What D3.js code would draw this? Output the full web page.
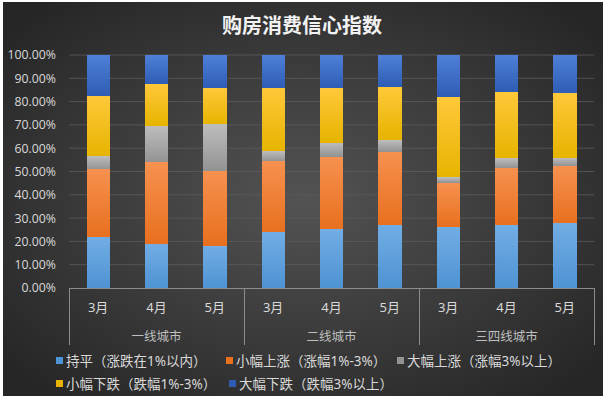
<!DOCTYPE html>
<html>
<head>
<meta charset="utf-8">
<script src="https://cdn.jsdelivr.net/npm/d3@7"></script>
<style>
  body { margin: 0; background: #ffffff; }
  text { font-family: "Noto Sans", "Noto Sans CJK SC", sans-serif; }
</style>
</head>
<body>
<script>
// chart values
var groups = ["一线城市", "二线城市", "三四线城市"];
var months = ["3月", "4月", "5月"];
var seriesNames = ["持平（涨跌在1%以内）", "小幅上涨（涨幅1%-3%）", "大幅上涨（涨幅3%以上）",
                   "小幅下跌（跌幅1%-3%）", "大幅下跌（跌幅3%以上）"];
// one value per bar, order: 一线 3,4,5 / 二线 3,4,5 / 三四线 3,4,5
var flat     = [0.220, 0.190, 0.182, 0.240, 0.252, 0.272, 0.263, 0.269, 0.277];
var smallUp  = [0.289, 0.349, 0.322, 0.304, 0.312, 0.313, 0.189, 0.247, 0.247];
var bigUp    = [0.057, 0.156, 0.198, 0.044, 0.060, 0.050, 0.023, 0.041, 0.035];
var smallDown= [0.259, 0.182, 0.156, 0.272, 0.233, 0.229, 0.346, 0.286, 0.279];
var bigDown  = [0.175, 0.123, 0.142, 0.140, 0.143, 0.136, 0.179, 0.157, 0.162];
var yTicks = [0, 0.1, 0.2, 0.3, 0.4, 0.5, 0.6, 0.7, 0.8, 0.9, 1.0];

// gradient stops per series (top, bottom)
var colors = [["#72ade4", "#4e93d3"], ["#f6914f", "#e8701f"], ["#bdbdbd", "#939393"],
              ["#ffc83a", "#e6b400"], ["#4f7fd8", "#2f5db5"]];

var width = 606, height = 399;
var margin = {top: 55, right: 12, bottom: 111, left: 69};

var svg = d3.select("body").append("svg")
    .attr("width", width)
    .attr("height", height);

var defs = svg.append("defs");
var bg = defs.append("radialGradient").attr("id", "bg")
    .attr("cx", "50%").attr("cy", "50%").attr("r", "65%");
bg.append("stop").attr("offset", "0%").attr("stop-color", "#535353");
bg.append("stop").attr("offset", "100%").attr("stop-color", "#262626");

colors.forEach(function(c, i) {
  var lg = defs.append("linearGradient").attr("id", "s" + i)
      .attr("x1", 0).attr("y1", 0).attr("x2", 0).attr("y2", 1);
  lg.append("stop").attr("offset", "0%").attr("stop-color", c[0]);
  lg.append("stop").attr("offset", "100%").attr("stop-color", c[1]);
});

// background panel
svg.append("rect")
    .attr("x", 3).attr("y", 2)
    .attr("width", 600).attr("height", 394)
    .attr("fill", "url(#bg)");

// title
svg.append("text")
    .attr("x", 302).attr("y", 33)
    .attr("text-anchor", "middle")
    .attr("fill", "#f2f2f2")
    .attr("font-size", 20)
    .attr("font-weight", "bold")
    .text("购房消费信心指数");

// build table for stacking
var cats = [];
groups.forEach(function(g) { months.forEach(function(m) { cats.push({group: g, month: m}); }); });
var table = cats.map(function(c, i) {
  return {i: i, s0: flat[i], s1: smallUp[i], s2: bigUp[i], s3: smallDown[i], s4: bigDown[i]};
});
var keys = ["s0", "s1", "s2", "s3", "s4"];
var stacked = d3.stack().keys(keys)(table);

var x = d3.scaleBand()
    .domain(d3.range(cats.length))
    .range([margin.left, width - margin.right])
    .paddingInner(0.6)
    .paddingOuter(0.3);

var y = d3.scaleLinear()
    .domain([0, 1])
    .range([height - margin.bottom, margin.top]);

// gridlines
svg.append("g").selectAll("line")
    .data(yTicks.slice(1))
    .enter().append("line")
    .attr("x1", margin.left).attr("x2", width - margin.right)
    .attr("y1", function(d) { return y(d); })
    .attr("y2", function(d) { return y(d); })
    .attr("stroke", "#5c5c5c")
    .attr("stroke-width", 0.8);

// y axis labels
var yAxis = svg.append("g")
    .attr("transform", "translate(" + margin.left + ",0)")
    .call(d3.axisLeft(y).tickValues(yTicks).tickFormat(d3.format(".2%")).tickSize(0).tickPadding(13));
yAxis.select(".domain").remove();
yAxis.selectAll("text")
    .attr("fill", "#d9d9d9")
    .attr("font-size", 12.3)
    .style("font-family", "'Open Sans', 'Noto Sans', sans-serif");

// bars
svg.append("g").selectAll("g")
    .data(stacked)
    .enter().append("g")
    .attr("fill", function(d, i) { return "url(#s" + i + ")"; })
    .selectAll("rect")
    .data(function(d) { return d; })
    .enter().append("rect")
    .attr("x", function(d) { return x(d.data.i); })
    .attr("width", x.bandwidth())
    .attr("y", function(d) { return y(d[1]); })
    .attr("height", function(d) { return y(d[0]) - y(d[1]); })
    .attr("shape-rendering", "crispEdges");

// category axis (two levels)
var axisY = y(0);
var left = margin.left, right = width - margin.right;
var ax = svg.append("g").attr("stroke", "#8c8c8c").attr("stroke-width", 1);
ax.append("line")
    .attr("x1", left).attr("x2", right)
    .attr("y1", axisY + 0.5).attr("y2", axisY + 0.5);
d3.range(groups.length + 1).forEach(function(k) {
  var gx = Math.round(left + k * months.length * (right - left) / cats.length) + 0.5;
  ax.append("line")
      .attr("x1", gx).attr("x2", gx)
      .attr("y1", axisY).attr("y2", axisY + 57);
});

svg.append("g").selectAll("text")
    .data(cats)
    .enter().append("text")
    .attr("x", function(d, i) { return x(i) + x.bandwidth() / 2; })
    .attr("y", axisY + 24)
    .attr("text-anchor", "middle")
    .attr("fill", "#d9d9d9")
    .attr("font-size", 13)
    .text(function(d) { return d.month; });

svg.append("g").selectAll("text")
    .data(groups)
    .enter().append("text")
    .attr("x", function(d, k) { return left + (k + 0.5) * months.length * (right - left) / cats.length; })
    .attr("y", axisY + 53)
    .attr("text-anchor", "middle")
    .attr("fill", "#bfbfbf")
    .attr("font-size", 12.5)
    .text(function(d) { return d; });

// legend
var legendPos = [[56, 361], [226, 361], [397, 361], [56, 384], [229, 384]];
var legend = svg.append("g").selectAll("g")
    .data(seriesNames)
    .enter().append("g")
    .attr("transform", function(d, i) { return "translate(" + legendPos[i][0] + "," + legendPos[i][1] + ")"; });
legend.append("rect")
    .attr("x", 0).attr("y", -4)
    .attr("width", 7).attr("height", 7)
    .attr("fill", function(d, i) { return colors[i][1]; });
legend.append("text")
    .attr("x", 10).attr("y", 0)
    .attr("dy", "0.35em")
    .attr("fill", "#d9d9d9")
    .attr("font-size", 13.5)
    .text(function(d) { return d; });
</script>
</body>
</html>
